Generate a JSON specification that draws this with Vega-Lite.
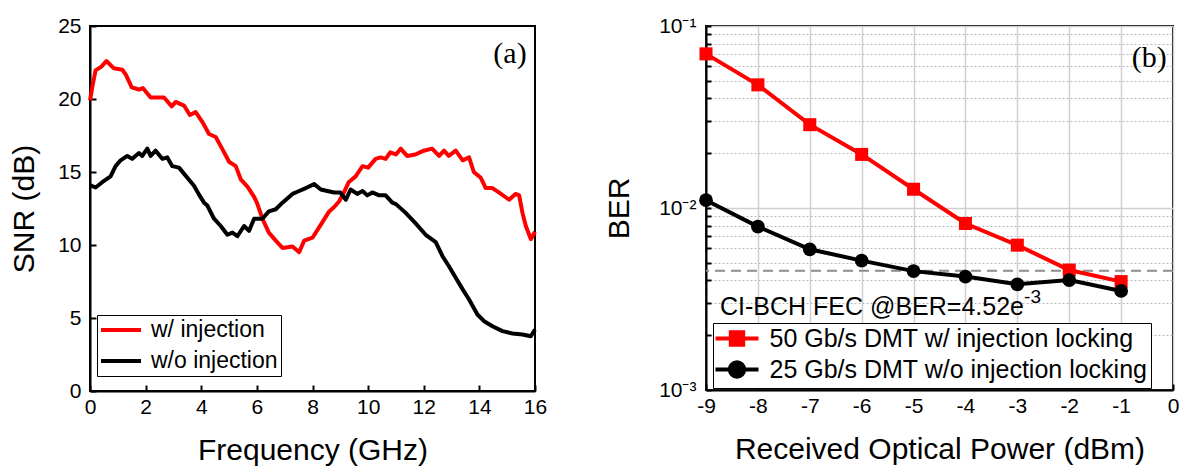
{
  "$schema": "https://vega.github.io/schema/vega-lite/v6.json",
  "background": "white",
  "padding": {"left": 8, "top": 14, "right": 5, "bottom": 5},
  "spacing": 55,
  "resolve": {"scale": {"color": "independent"}, "legend": {"color": "independent"}},
  "config": {
    "font": "Liberation Sans",
    "view": {"stroke": "black", "strokeWidth": 2},
    "axis": {
      "domainColor": "black", "domainWidth": 2,
      "tickColor": "black", "tickWidth": 2, "tickSize": -6,
      "labelFont": "Liberation Sans", "labelFontSize": 21, "labelColor": "black", "labelFlush": false,
      "titleFont": "Liberation Sans", "titleFontSize": 30, "titleFontWeight": "normal", "titleColor": "black",
      "grid": false
    },
    "axisX": {"labelPadding": 11, "titlePadding": 18},
    "axisY": {"labelPadding": 15, "titlePadding": 18},
    "legend": {
      "orient": "none", "title": null,
      "strokeColor": "black", "fillColor": "white", "padding": 3,
      "labelFont": "Liberation Sans", "labelFontSize": 23, "labelColor": "black", "labelLimit": 0,
      "symbolSize": 400, "symbolStrokeWidth": 4, "rowPadding": 7
    }
  },
  "datasets": {
    "snr": [
      {"f": 0, "snr": 19.9, "s": "w/ injection"},
      {"f": 0.1, "snr": 21.0, "s": "w/ injection"},
      {"f": 0.2, "snr": 21.96, "s": "w/ injection"},
      {"f": 0.4, "snr": 22.2, "s": "w/ injection"},
      {"f": 0.59, "snr": 22.6, "s": "w/ injection"},
      {"f": 0.86, "snr": 22.1, "s": "w/ injection"},
      {"f": 1.16, "snr": 22.0, "s": "w/ injection"},
      {"f": 1.28, "snr": 21.7, "s": "w/ injection"},
      {"f": 1.5, "snr": 20.8, "s": "w/ injection"},
      {"f": 1.76, "snr": 20.65, "s": "w/ injection"},
      {"f": 1.9, "snr": 20.75, "s": "w/ injection"},
      {"f": 2.18, "snr": 20.1, "s": "w/ injection"},
      {"f": 2.66, "snr": 20.1, "s": "w/ injection"},
      {"f": 2.94, "snr": 19.5, "s": "w/ injection"},
      {"f": 3.08, "snr": 19.8, "s": "w/ injection"},
      {"f": 3.38, "snr": 19.55, "s": "w/ injection"},
      {"f": 3.59, "snr": 18.9, "s": "w/ injection"},
      {"f": 3.8, "snr": 19.1, "s": "w/ injection"},
      {"f": 4.05, "snr": 18.4, "s": "w/ injection"},
      {"f": 4.28, "snr": 17.6, "s": "w/ injection"},
      {"f": 4.52, "snr": 17.4, "s": "w/ injection"},
      {"f": 4.75, "snr": 16.6, "s": "w/ injection"},
      {"f": 5.0, "snr": 15.7, "s": "w/ injection"},
      {"f": 5.24, "snr": 15.4, "s": "w/ injection"},
      {"f": 5.42, "snr": 14.5, "s": "w/ injection"},
      {"f": 5.66, "snr": 14.0, "s": "w/ injection"},
      {"f": 5.9, "snr": 13.3, "s": "w/ injection"},
      {"f": 6.0, "snr": 12.9, "s": "w/ injection"},
      {"f": 6.2, "snr": 11.8, "s": "w/ injection"},
      {"f": 6.43, "snr": 10.85, "s": "w/ injection"},
      {"f": 6.68, "snr": 10.3, "s": "w/ injection"},
      {"f": 6.92, "snr": 9.8, "s": "w/ injection"},
      {"f": 7.1, "snr": 9.85, "s": "w/ injection"},
      {"f": 7.28, "snr": 9.9, "s": "w/ injection"},
      {"f": 7.46, "snr": 9.6, "s": "w/ injection"},
      {"f": 7.52, "snr": 9.5, "s": "w/ injection"},
      {"f": 7.7, "snr": 10.3, "s": "w/ injection"},
      {"f": 8.0, "snr": 10.5, "s": "w/ injection"},
      {"f": 8.3, "snr": 11.4, "s": "w/ injection"},
      {"f": 8.6, "snr": 12.3, "s": "w/ injection"},
      {"f": 8.78, "snr": 12.6, "s": "w/ injection"},
      {"f": 8.96, "snr": 13.0, "s": "w/ injection"},
      {"f": 9.13, "snr": 13.6, "s": "w/ injection"},
      {"f": 9.3, "snr": 14.3, "s": "w/ injection"},
      {"f": 9.55, "snr": 14.7, "s": "w/ injection"},
      {"f": 9.8, "snr": 15.4, "s": "w/ injection"},
      {"f": 10.0, "snr": 15.3, "s": "w/ injection"},
      {"f": 10.27, "snr": 15.9, "s": "w/ injection"},
      {"f": 10.45, "snr": 16.0, "s": "w/ injection"},
      {"f": 10.63, "snr": 15.9, "s": "w/ injection"},
      {"f": 10.8, "snr": 16.35, "s": "w/ injection"},
      {"f": 11.0, "snr": 16.2, "s": "w/ injection"},
      {"f": 11.17, "snr": 16.6, "s": "w/ injection"},
      {"f": 11.4, "snr": 16.1, "s": "w/ injection"},
      {"f": 11.7, "snr": 16.2, "s": "w/ injection"},
      {"f": 12.0, "snr": 16.46, "s": "w/ injection"},
      {"f": 12.3, "snr": 16.6, "s": "w/ injection"},
      {"f": 12.55, "snr": 16.1, "s": "w/ injection"},
      {"f": 12.73, "snr": 16.46, "s": "w/ injection"},
      {"f": 12.9, "snr": 16.1, "s": "w/ injection"},
      {"f": 13.15, "snr": 16.46, "s": "w/ injection"},
      {"f": 13.4, "snr": 15.8, "s": "w/ injection"},
      {"f": 13.63, "snr": 16.0, "s": "w/ injection"},
      {"f": 13.8, "snr": 15.0, "s": "w/ injection"},
      {"f": 14.05, "snr": 14.6, "s": "w/ injection"},
      {"f": 14.23, "snr": 13.9, "s": "w/ injection"},
      {"f": 14.47, "snr": 13.9, "s": "w/ injection"},
      {"f": 14.7, "snr": 13.6, "s": "w/ injection"},
      {"f": 15.07, "snr": 13.1, "s": "w/ injection"},
      {"f": 15.3, "snr": 13.5, "s": "w/ injection"},
      {"f": 15.43, "snr": 13.4, "s": "w/ injection"},
      {"f": 15.55, "snr": 12.2, "s": "w/ injection"},
      {"f": 15.67, "snr": 11.3, "s": "w/ injection"},
      {"f": 15.85, "snr": 10.4, "s": "w/ injection"},
      {"f": 16.0, "snr": 10.9, "s": "w/ injection"},
      {"f": 0, "snr": 14.1, "s": "w/o injection"},
      {"f": 0.2, "snr": 13.94, "s": "w/o injection"},
      {"f": 0.44, "snr": 14.3, "s": "w/o injection"},
      {"f": 0.74, "snr": 14.7, "s": "w/o injection"},
      {"f": 0.92, "snr": 15.4, "s": "w/o injection"},
      {"f": 1.1, "snr": 15.8, "s": "w/o injection"},
      {"f": 1.34, "snr": 16.1, "s": "w/o injection"},
      {"f": 1.52, "snr": 15.9, "s": "w/o injection"},
      {"f": 1.76, "snr": 16.3, "s": "w/o injection"},
      {"f": 1.88, "snr": 16.1, "s": "w/o injection"},
      {"f": 2.06, "snr": 16.6, "s": "w/o injection"},
      {"f": 2.18, "snr": 16.1, "s": "w/o injection"},
      {"f": 2.36, "snr": 16.46, "s": "w/o injection"},
      {"f": 2.6, "snr": 15.9, "s": "w/o injection"},
      {"f": 2.78, "snr": 16.0, "s": "w/o injection"},
      {"f": 2.96, "snr": 15.4, "s": "w/o injection"},
      {"f": 3.2, "snr": 15.3, "s": "w/o injection"},
      {"f": 3.5, "snr": 14.6, "s": "w/o injection"},
      {"f": 3.74, "snr": 14.06, "s": "w/o injection"},
      {"f": 3.92, "snr": 13.45, "s": "w/o injection"},
      {"f": 4.1, "snr": 12.9, "s": "w/o injection"},
      {"f": 4.22, "snr": 12.7, "s": "w/o injection"},
      {"f": 4.46, "snr": 11.8, "s": "w/o injection"},
      {"f": 4.7, "snr": 11.3, "s": "w/o injection"},
      {"f": 4.94, "snr": 10.7, "s": "w/o injection"},
      {"f": 5.12, "snr": 10.85, "s": "w/o injection"},
      {"f": 5.3, "snr": 10.6, "s": "w/o injection"},
      {"f": 5.54, "snr": 11.3, "s": "w/o injection"},
      {"f": 5.72, "snr": 10.97, "s": "w/o injection"},
      {"f": 5.9, "snr": 11.8, "s": "w/o injection"},
      {"f": 6.2, "snr": 11.8, "s": "w/o injection"},
      {"f": 6.43, "snr": 12.3, "s": "w/o injection"},
      {"f": 6.68, "snr": 12.45, "s": "w/o injection"},
      {"f": 6.92, "snr": 12.9, "s": "w/o injection"},
      {"f": 7.28, "snr": 13.5, "s": "w/o injection"},
      {"f": 7.52, "snr": 13.7, "s": "w/o injection"},
      {"f": 7.76, "snr": 13.9, "s": "w/o injection"},
      {"f": 8.06, "snr": 14.17, "s": "w/o injection"},
      {"f": 8.3, "snr": 13.8, "s": "w/o injection"},
      {"f": 8.53, "snr": 13.7, "s": "w/o injection"},
      {"f": 8.78, "snr": 13.6, "s": "w/o injection"},
      {"f": 9.0, "snr": 13.6, "s": "w/o injection"},
      {"f": 9.2, "snr": 13.1, "s": "w/o injection"},
      {"f": 9.37, "snr": 13.8, "s": "w/o injection"},
      {"f": 9.61, "snr": 13.5, "s": "w/o injection"},
      {"f": 9.8, "snr": 13.7, "s": "w/o injection"},
      {"f": 9.97, "snr": 13.4, "s": "w/o injection"},
      {"f": 10.15, "snr": 13.6, "s": "w/o injection"},
      {"f": 10.4, "snr": 13.4, "s": "w/o injection"},
      {"f": 10.63, "snr": 13.4, "s": "w/o injection"},
      {"f": 10.87, "snr": 12.9, "s": "w/o injection"},
      {"f": 11.0, "snr": 12.8, "s": "w/o injection"},
      {"f": 11.35, "snr": 12.2, "s": "w/o injection"},
      {"f": 11.7, "snr": 11.5, "s": "w/o injection"},
      {"f": 12.07, "snr": 10.7, "s": "w/o injection"},
      {"f": 12.43, "snr": 10.2, "s": "w/o injection"},
      {"f": 12.67, "snr": 9.25, "s": "w/o injection"},
      {"f": 12.9, "snr": 8.56, "s": "w/o injection"},
      {"f": 13.15, "snr": 7.76, "s": "w/o injection"},
      {"f": 13.4, "snr": 6.96, "s": "w/o injection"},
      {"f": 13.63, "snr": 6.27, "s": "w/o injection"},
      {"f": 13.93, "snr": 5.24, "s": "w/o injection"},
      {"f": 14.17, "snr": 4.78, "s": "w/o injection"},
      {"f": 14.47, "snr": 4.44, "s": "w/o injection"},
      {"f": 14.83, "snr": 4.1, "s": "w/o injection"},
      {"f": 15.19, "snr": 3.94, "s": "w/o injection"},
      {"f": 15.55, "snr": 3.87, "s": "w/o injection"},
      {"f": 15.85, "snr": 3.75, "s": "w/o injection"},
      {"f": 16.0, "snr": 4.2, "s": "w/o injection"}
    ],
    "ber": [
      {"p": -9, "ber": 0.0703, "s": "50 Gb/s DMT w/ injection locking"},
      {"p": -8, "ber": 0.0475, "s": "50 Gb/s DMT w/ injection locking"},
      {"p": -7, "ber": 0.0287, "s": "50 Gb/s DMT w/ injection locking"},
      {"p": -6, "ber": 0.0197, "s": "50 Gb/s DMT w/ injection locking"},
      {"p": -5, "ber": 0.01268, "s": "50 Gb/s DMT w/ injection locking"},
      {"p": -4, "ber": 0.00822, "s": "50 Gb/s DMT w/ injection locking"},
      {"p": -3, "ber": 0.00625, "s": "50 Gb/s DMT w/ injection locking"},
      {"p": -2, "ber": 0.00456, "s": "50 Gb/s DMT w/ injection locking"},
      {"p": -1, "ber": 0.00394, "s": "50 Gb/s DMT w/ injection locking"},
      {"p": -9, "ber": 0.01104, "s": "25 Gb/s DMT w/o injection locking"},
      {"p": -8, "ber": 0.0079, "s": "25 Gb/s DMT w/o injection locking"},
      {"p": -7, "ber": 0.00593, "s": "25 Gb/s DMT w/o injection locking"},
      {"p": -6, "ber": 0.00514, "s": "25 Gb/s DMT w/o injection locking"},
      {"p": -5, "ber": 0.0045, "s": "25 Gb/s DMT w/o injection locking"},
      {"p": -4, "ber": 0.0042, "s": "25 Gb/s DMT w/o injection locking"},
      {"p": -3, "ber": 0.00381, "s": "25 Gb/s DMT w/o injection locking"},
      {"p": -2, "ber": 0.00402, "s": "25 Gb/s DMT w/o injection locking"},
      {"p": -1, "ber": 0.0035, "s": "25 Gb/s DMT w/o injection locking"}
    ]
  },
  "hconcat": [
    {
      "width": 445,
      "height": 365,
      "layer": [
        {
          "data": {"name": "snr"},
          "mark": {"type": "line", "strokeWidth": 4, "strokeJoin": "round"},
          "encoding": {
            "x": {"field": "f", "type": "quantitative", "scale": {"domain": [0, 16], "nice": false},
                  "axis": {"values": [0, 2, 4, 6, 8, 10, 12, 14, 16], "title": "Frequency (GHz)"}},
            "y": {"field": "snr", "type": "quantitative", "scale": {"domain": [0, 25], "nice": false},
                  "axis": {"values": [0, 5, 10, 15, 20, 25], "title": "SNR (dB)"}},
            "color": {"field": "s", "type": "nominal",
                      "scale": {"domain": ["w/ injection", "w/o injection"], "range": ["#ff0000", "#000000"]},
                      "legend": {"legendX": 7, "legendY": 289, "symbolType": "M-2,0H2", "symbolOffset": 9, "labelOffset": 18}}
          }
        },
        {
          "data": {"values": [{"t": "(a)"}]},
          "mark": {"type": "text", "font": "Liberation Serif", "fontSize": 30, "align": "right", "baseline": "middle", "color": "black"},
          "encoding": {
            "x": {"datum": 15.7, "type": "quantitative"},
            "y": {"datum": 23.1, "type": "quantitative"},
            "text": {"field": "t"}
          }
        }
      ]
    },
    {
      "width": 467,
      "height": 364,
      "layer": [
        {
          "data": {"values": [{"fec": 0.00452}]},
          "mark": {"type": "rule", "color": "#8c8c8c", "strokeDash": [10, 6], "strokeWidth": 2},
          "encoding": {
            "y": {"field": "fec", "type": "quantitative"}
          }
        },
        {
          "data": {"name": "ber"},
          "mark": {"type": "line", "strokeWidth": 4},
          "encoding": {
            "x": {"field": "p", "type": "quantitative", "scale": {"domain": [-9, 0], "nice": false},
                  "axis": {"values": [-9, -8, -7, -6, -5, -4, -3, -2, -1, 0], "title": "Received Optical Power (dBm)",
                           "labelExpr": "datum.value < 0 ? '-' + abs(datum.value) : '' + datum.value",
                           "grid": true, "gridColor": "#d0d0d0", "gridWidth": 1.5}},
            "y": {"field": "ber", "type": "quantitative", "scale": {"type": "log", "domain": [0.001, 0.1], "nice": false},
                  "axis": {"title": "BER", "titlePadding": 24,
                           "values": [0.001, 0.002, 0.003, 0.004, 0.005, 0.006, 0.007, 0.008, 0.009, 0.01, 0.02, 0.03, 0.04, 0.05, 0.06, 0.07, 0.08, 0.09, 0.1],
                           "labelExpr": "datum.value == 0.1 ? '10⁻¹' : (datum.value == 0.01 ? '10⁻²' : (datum.value == 0.001 ? '10⁻³' : ''))",
                           "tickSize": -5,
                           "grid": true,
                           "gridColor": {"condition": {"test": "datum.value == 0.01 || datum.value == 0.1 || datum.value == 0.001", "value": "#d0d0d0"}, "value": "#b8b8b8"},
                           "gridDash": {"condition": {"test": "datum.value == 0.01 || datum.value == 0.1 || datum.value == 0.001", "value": []}, "value": [2, 2]},
                           "gridWidth": {"condition": {"test": "datum.value == 0.01 || datum.value == 0.1 || datum.value == 0.001", "value": 1.5}, "value": 1}}},
            "color": {"field": "s", "type": "nominal",
                      "scale": {"domain": ["50 Gb/s DMT w/ injection locking", "25 Gb/s DMT w/o injection locking"], "range": ["#ff0000", "#000000"]},
                      "legend": {"legendX": 7, "legendY": 297, "symbolOffset": 8.5, "labelOffset": 20, "labelFontSize": 25, "rowPadding": 1,
                                 "encode": {"symbols": {"update": {
                                   "shape": {"signal": "datum.value === '50 Gb/s DMT w/ injection locking' ? 'M-2.15,0H2.15M-0.62,-0.62H0.62V0.62H-0.62Z' : 'M-2.15,0H2.15M-0.72,0A0.72,0.72 0 1,0 0.72,0A0.72,0.72 0 1,0 -0.72,0Z'"},
                                   "fill": {"signal": "datum.value === '50 Gb/s DMT w/ injection locking' ? '#ff0000' : '#000000'"},
                                   "stroke": {"signal": "datum.value === '50 Gb/s DMT w/ injection locking' ? '#ff0000' : '#000000'"},
                                   "strokeWidth": {"value": 4}
                                 }}}}}
          }
        },
        {
          "data": {"name": "ber"},
          "transform": [{"filter": "datum.s === '50 Gb/s DMT w/ injection locking'"}],
          "mark": {"type": "point", "shape": "square", "filled": true, "size": 170, "color": "#ff0000", "opacity": 1},
          "encoding": {
            "x": {"field": "p", "type": "quantitative"},
            "y": {"field": "ber", "type": "quantitative"}
          }
        },
        {
          "data": {"name": "ber"},
          "transform": [{"filter": "datum.s === '25 Gb/s DMT w/o injection locking'"}],
          "mark": {"type": "point", "shape": "circle", "filled": true, "size": 190, "color": "#000000", "opacity": 1},
          "encoding": {
            "x": {"field": "p", "type": "quantitative"},
            "y": {"field": "ber", "type": "quantitative"}
          }
        },
        {
          "data": {"values": [{"t": "(b)"}]},
          "mark": {"type": "text", "font": "Liberation Serif", "fontSize": 30, "align": "right", "baseline": "middle", "color": "black"},
          "encoding": {
            "x": {"datum": -0.12, "type": "quantitative"},
            "y": {"datum": 0.0668, "type": "quantitative"},
            "text": {"field": "t"}
          }
        },
        {
          "data": {"values": [{"t": "CI-BCH FEC @BER=4.52e"}]},
          "mark": {"type": "text", "fontSize": 25, "align": "left", "baseline": "alphabetic", "color": "black"},
          "encoding": {
            "x": {"datum": -8.73, "type": "quantitative"},
            "y": {"datum": 0.002576, "type": "quantitative"},
            "text": {"field": "t"}
          }
        },
        {
          "data": {"values": [{"t": "-3"}]},
          "mark": {"type": "text", "fontSize": 19, "align": "left", "baseline": "alphabetic", "color": "black"},
          "encoding": {
            "x": {"datum": -2.87, "type": "quantitative"},
            "y": {"datum": 0.00302, "type": "quantitative"},
            "text": {"field": "t"}
          }
        }
      ]
    }
  ]
}
